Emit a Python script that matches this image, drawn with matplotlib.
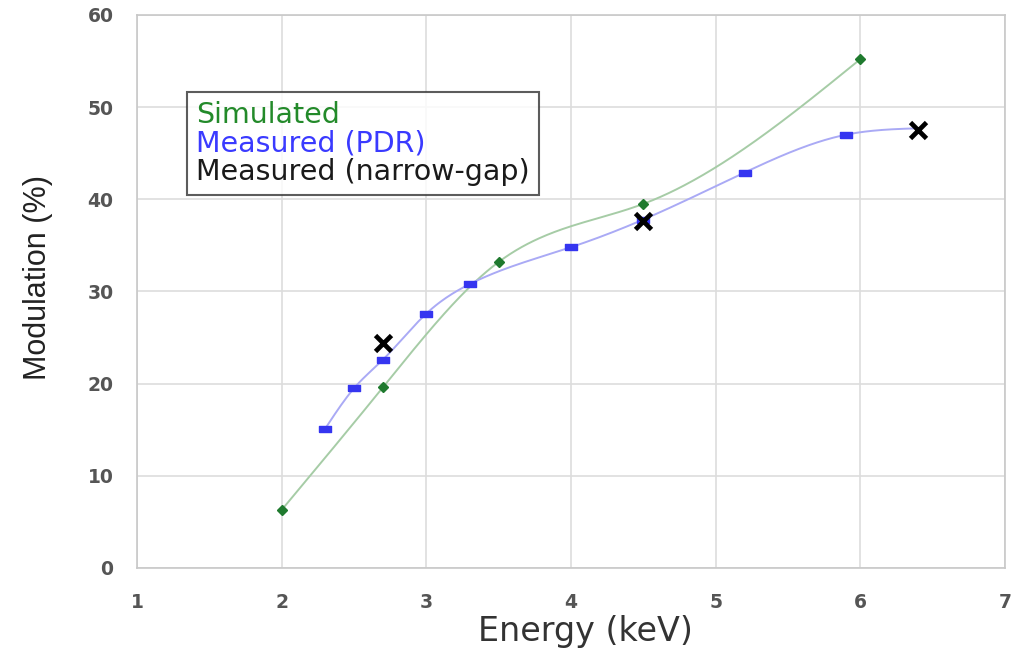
import numpy as np
import matplotlib
matplotlib.use("Agg")
import matplotlib.pyplot as plt
from matplotlib.lines import Line2D

# ---- data ----
sim_energy = [2.0, 2.7, 3.5, 4.5, 6.0]
sim_mod = [6.3, 19.6, 33.2, 39.5, 55.2]

pdr_energy = [2.3, 2.5, 2.7, 3.0, 3.3, 4.0, 4.5, 5.2, 5.9, 6.4]
pdr_mod = [15.1, 19.5, 22.6, 27.6, 30.8, 34.8, 37.8, 42.9, 47.0, 47.7]

ng_energy = [2.7, 4.5, 6.4]
ng_mod = [24.4, 37.6, 47.5]

labels = ["Simulated", "Measured (PDR)", "Measured (narrow-gap)"]
xticks = [1, 2, 3, 4, 5, 6, 7]
yticks = [0, 10, 20, 30, 40, 50, 60]


def natural_spline(x, y, n=300):
    x = np.asarray(x, float); y = np.asarray(y, float)
    k = len(x); h = np.diff(x)
    A = np.zeros((k, k)); b = np.zeros(k)
    A[0, 0] = A[-1, -1] = 1
    for i in range(1, k - 1):
        A[i, i - 1] = h[i - 1]; A[i, i] = 2 * (h[i - 1] + h[i]); A[i, i + 1] = h[i]
        b[i] = 3 * ((y[i + 1] - y[i]) / h[i] - (y[i] - y[i - 1]) / h[i - 1])
    c = np.linalg.solve(A, b)
    xs = np.linspace(x[0], x[-1], n); ys = np.empty_like(xs)
    for j, xv in enumerate(xs):
        i = min(np.searchsorted(x, xv, side="right") - 1, k - 2)
        d = xv - x[i]
        bi = (y[i + 1] - y[i]) / h[i] - h[i] * (2 * c[i] + c[i + 1]) / 3
        di = (c[i + 1] - c[i]) / (3 * h[i])
        ys[j] = y[i] + bi * d + c[i] * d ** 2 + di * d ** 3
    return xs, ys


plt.rcParams["font.family"] = ["DejaVu Sans"]
fig = plt.figure(figsize=(10.25, 6.48), dpi=100)
ax = fig.add_axes([0.1337, 0.1235, 0.8468, 0.8535])

green_line = "#a6cca6"
green_mark = "#1f7a2e"
blue_line = "#aaaaf5"
blue_mark = "#3535f0"

sx, sy = natural_spline(sim_energy, sim_mod)
ax.plot(sx, sy, color=green_line, lw=1.4, zorder=2)
ax.plot(sim_energy, sim_mod, linestyle="none", marker="D", ms=5,
        color=green_mark, zorder=4)

px, py = natural_spline(pdr_energy, pdr_mod)
ax.plot(px, py, color=blue_line, lw=1.4, zorder=2)
rect = [(-1, -0.45), (1, -0.45), (1, 0.45), (-1, 0.45), (-1, -0.45)]
ax.plot(pdr_energy[:-1], pdr_mod[:-1], linestyle="none", marker=rect, ms=9,
        color=blue_mark, zorder=4)

ax.plot(ng_energy, ng_mod, linestyle="none", marker="x", ms=12, mew=3.4,
        color="black", zorder=5)

ax.set_xlim(1, 7)
ax.set_ylim(0, 60)
ax.set_xticks(xticks)
ax.set_yticks(yticks)
ax.tick_params(length=0, labelsize=13.5, labelcolor="#555555")
ax.tick_params(axis="x", pad=18)
ax.tick_params(axis="y", pad=17)
for lab in ax.get_xticklabels() + ax.get_yticklabels():
    lab.set_fontweight("bold")
ax.grid(True, color="#dddddd", lw=1.2)
ax.set_axisbelow(True)
for s in ax.spines.values():
    s.set_color("#c8c8c8")
    s.set_linewidth(1.2)

ax.set_xlabel("Energy (keV)", fontsize=24, color="#333333")
ax.xaxis.set_label_coords(0.517, -0.085)
ax.set_ylabel("Modulation (%)", fontsize=22, color="#222222",
              family=["Liberation Sans", "DejaVu Sans"])
ax.yaxis.set_label_coords(-0.097, 0.525)

handles = [Line2D([], [], linestyle="none") for _ in labels]
leg = ax.legend(handles, labels, loc="upper left",
                bbox_to_anchor=(0.058, 0.861), handlelength=0,
                handletextpad=0, fontsize=20.5, frameon=True,
                fancybox=False, borderpad=0.32, labelspacing=0.02,
                borderaxespad=0,
                labelcolor=["#238a2a", "#3a3aff", "#1a1a1a"])
leg.get_frame().set_edgecolor("#333333")
leg.get_frame().set_linewidth(1.5)

fig.savefig("out.png", dpi=100)
